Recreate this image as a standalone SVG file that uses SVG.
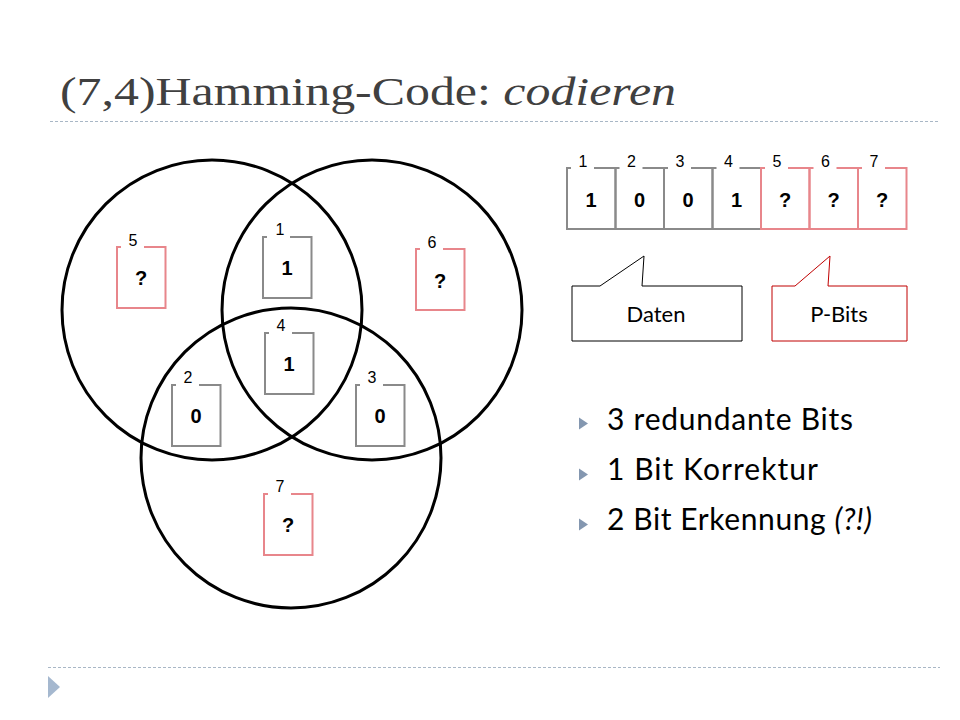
<svg xmlns="http://www.w3.org/2000/svg" xmlns:xlink="http://www.w3.org/1999/xlink" width="960" height="720" viewBox="0 0 960 720">
<style>
.circ{fill:none;stroke:#000;stroke-width:3}
.g{fill:none;stroke:#8a8a8a;stroke-width:2}
.r{fill:none;stroke:#e8868b;stroke-width:2}
.lbl{font-family:"Liberation Sans",Arial,sans-serif;font-size:16px;fill:#000;text-anchor:middle}
.val{font-family:"Liberation Sans",Arial,sans-serif;font-size:20px;font-weight:bold;fill:#000;text-anchor:middle}
.title{font-family:"Liberation Serif","Times New Roman",serif;font-size:40px;fill:#404040}
.bul{font-family:Lato,"Open Sans",sans-serif;font-size:30px;fill:#000}
.call{font-family:Lato,"Open Sans",sans-serif;font-size:22px;fill:#000;text-anchor:middle}
.dash{stroke:#a9b7c6;stroke-width:1;stroke-dasharray:3 2}
.tri{fill:#8497b0}
</style>
<defs>
<path id="bx" d="M4 0H0V61H48.5V0H27"/>
</defs>
<rect width="960" height="720" fill="#fff"/>
<g id="title">
<text class="title" x="60" y="105" textLength="616" lengthAdjust="spacingAndGlyphs">(7,4)Hamming-Code: <tspan font-style="italic">codieren</tspan></text>
<line class="dash" x1="50" y1="121.5" x2="940" y2="121.5"/>
</g>
<g id="circles">
<circle class="circ" cx="212" cy="310" r="150"/>
<circle class="circ" cx="372" cy="310" r="150"/>
<circle class="circ" cx="291" cy="458" r="150"/>
</g>
<g id="venn-boxes">
<g id="v1"><use xlink:href="#bx" x="263" y="237" class="g"/><text class="lbl" x="280" y="235">1</text><text class="val" x="287" y="275">1</text></g>
<g id="v5"><use xlink:href="#bx" x="117" y="247" class="r"/><text class="lbl" x="133" y="246">5</text><text class="val" x="141" y="285">?</text></g>
<g id="v6"><use xlink:href="#bx" x="416" y="249" class="r"/><text class="lbl" x="432" y="248">6</text><text class="val" x="440" y="288">?</text></g>
<g id="v4"><use xlink:href="#bx" x="265" y="333" class="g"/><text class="lbl" x="281" y="331">4</text><text class="val" x="289" y="371">1</text></g>
<g id="v2"><use xlink:href="#bx" x="172" y="385" class="g"/><text class="lbl" x="188" y="383">2</text><text class="val" x="196" y="423">0</text></g>
<g id="v3"><use xlink:href="#bx" x="356" y="385" class="g"/><text class="lbl" x="372" y="383">3</text><text class="val" x="380" y="423">0</text></g>
<g id="v7"><use xlink:href="#bx" x="264" y="494" class="r"/><text class="lbl" x="280" y="492">7</text><text class="val" x="288" y="532">?</text></g>
</g>
<g id="row">
<g id="b1"><use xlink:href="#bx" x="567" y="168" class="g"/><text class="lbl" x="583" y="167">1</text><text class="val" x="591" y="207">1</text></g>
<g id="b2"><use xlink:href="#bx" x="615.5" y="168" class="g"/><text class="lbl" x="631.5" y="167">2</text><text class="val" x="639.5" y="207">0</text></g>
<g id="b3"><use xlink:href="#bx" x="664" y="168" class="g"/><text class="lbl" x="680" y="167">3</text><text class="val" x="688" y="207">0</text></g>
<g id="b4"><use xlink:href="#bx" x="712.5" y="168" class="g"/><text class="lbl" x="728.5" y="167">4</text><text class="val" x="736.5" y="207">1</text></g>
<g id="b5"><use xlink:href="#bx" x="761" y="168" class="r"/><text class="lbl" x="777" y="167">5</text><text class="val" x="785" y="207">?</text></g>
<g id="b6"><use xlink:href="#bx" x="809.5" y="168" class="r"/><text class="lbl" x="825.5" y="167">6</text><text class="val" x="833.5" y="207">?</text></g>
<g id="b7"><use xlink:href="#bx" x="858" y="168" class="r"/><text class="lbl" x="874" y="167">7</text><text class="val" x="882" y="207">?</text></g>
</g>
<g id="callout-daten">
<path d="M600 286L644 256L642 286H742V341H572V286Z" fill="#fff" stroke="#000" stroke-width="1"/>
<text class="call" x="656" y="322">Daten</text>
</g>
<g id="callout-pbits">
<path d="M795 286L830 256L828 286H907V341H772V286Z" fill="#fff" stroke="#c00000" stroke-width="1"/>
<text class="call" x="839" y="322">P-Bits</text>
</g>
<g id="bullets">
<path class="tri" d="M579 417.5L588 423.5L579 429.5Z"/>
<text class="bul" x="607" y="430" textLength="246" lengthAdjust="spacing">3 redundante Bits</text>
<path class="tri" d="M579 468.5L588 474.5L579 480.5Z"/>
<text class="bul" x="607" y="480" textLength="211" lengthAdjust="spacing">1 Bit Korrektur</text>
<path class="tri" d="M579 518.5L588 524.5L579 530.5Z"/>
<text class="bul" x="607" y="530" textLength="265" lengthAdjust="spacing">2 Bit Erkennung <tspan font-style="italic">(?!)</tspan></text>
</g>
<g id="footer">
<line class="dash" x1="48" y1="667.5" x2="940" y2="667.5"/>
<path d="M48 676L60 687L48 698Z" fill="#a5b8cf"/>
</g>
</svg>
